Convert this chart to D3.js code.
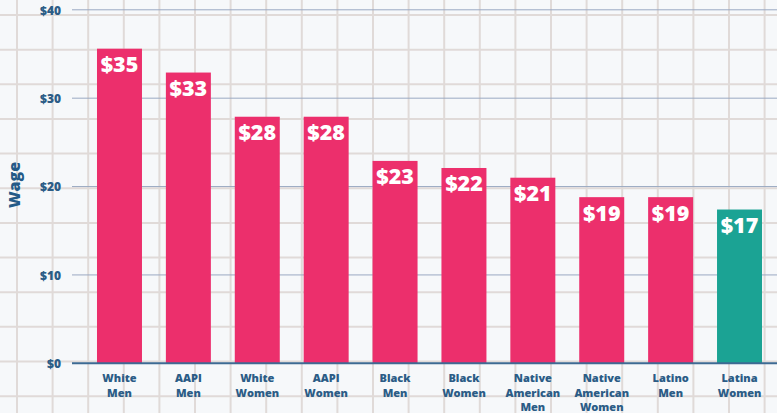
<!DOCTYPE html>
<html>
<head>
<meta charset="utf-8">
<script src="https://cdn.jsdelivr.net/npm/d3@7"></script>
<style>
  html, body { margin: 0; padding: 0; background: #f6f8fa; }
  svg { display: block; }
</style>
</head>
<body>
<svg id="chart" width="777" height="413"></svg>
<script>
const categories = [
  ["White", "Men"], ["AAPI", "Men"], ["White", "Women"], ["AAPI", "Women"],
  ["Black", "Men"], ["Black", "Women"], ["Native", "American", "Men"],
  ["Native", "American", "Women"], ["Latino", "Men"], ["Latina", "Women"]
];
const wages = [35.6, 32.9, 27.9, 27.9, 22.9, 22.1, 21.0, 18.8, 18.8, 17.4];
const wageLabels = ["$35", "$33", "$28", "$28", "$23", "$22", "$21", "$19", "$19", "$17"];
const highlight = [false, false, false, false, false, false, false, false, false, true];
const yTicks = [0, 10, 20, 30, 40];

const W = 777, H = 413;
const FONT = "'Open Sans', 'DejaVu Sans', sans-serif";
const svg = d3.select("#chart");

// graph-paper background
const bg = svg.append("g");
bg.append("rect").attr("width", W).attr("height", H).attr("fill", "#f6f8fa");
bg.selectAll("line.v").data(d3.range(0, 22)).join("line")
  .attr("x1", i => 17 + i * 35.6).attr("x2", i => 17 + i * 35.6)
  .attr("y1", 0).attr("y2", H)
  .attr("stroke", "#e0dad8").attr("stroke-width", 2);
bg.selectAll("line.h").data(d3.range(0, 12)).join("line")
  .attr("y1", i => 15 + i * 34.65).attr("y2", i => 15 + i * 34.65)
  .attr("x1", 0).attr("x2", W)
  .attr("stroke", "#e0dad8").attr("stroke-width", 2);

const x = d3.scaleBand()
  .domain(d3.range(categories.length))
  .range([85, 774])
  .paddingInner(0.347)
  .paddingOuter(0.174);
const y = d3.scaleLinear().domain([0, 40]).range([363.3, 9.8]);

// y axis
const yAxis = d3.axisLeft(y).tickValues(yTicks).tickSize(0).tickPadding(0)
  .tickFormat(d => "$" + d);
const ya = svg.append("g").attr("transform", "translate(61,0)").call(yAxis);
ya.select(".domain").remove();
ya.selectAll("text")
  .attr("fill", "#2b5c86")
  .attr("font-family", FONT)
  .attr("font-weight", 800)
  .attr("font-size", 12)
  .attr("dy", "0.35em");

// gridlines
svg.append("g").selectAll("line").data(yTicks.filter(d => d > 0)).join("line")
  .attr("x1", 72).attr("x2", W)
  .attr("y1", d => y(d)).attr("y2", d => y(d))
  .attr("stroke", "#9aa9c2").attr("stroke-width", 1);

// bars
svg.append("g").selectAll("rect").data(wages).join("rect")
  .attr("x", (d, i) => x(i))
  .attr("width", x.bandwidth())
  .attr("y", d => y(d))
  .attr("height", d => y(0) - y(d))
  .attr("fill", (d, i) => highlight[i] ? "#1ba394" : "#ec2f6c");

// value labels
svg.append("g").selectAll("text").data(wages).join("text")
  .attr("x", (d, i) => x(i) + x.bandwidth() / 2)
  .attr("y", d => y(d) + 23.5)
  .attr("text-anchor", "middle")
  .attr("fill", "#ffffff")
  .attr("font-family", FONT)
  .attr("font-weight", 800)
  .attr("font-size", 21.5)
  .text((d, i) => wageLabels[i]);

// baseline
svg.append("line")
  .attr("x1", 72).attr("x2", W)
  .attr("y1", y(0)).attr("y2", y(0))
  .attr("stroke", "#3d6a93").attr("stroke-width", 2);

// category labels
const cat = svg.append("g").selectAll("text").data(categories).join("text")
  .attr("x", (d, i) => x(i) + x.bandwidth() / 2)
  .attr("y", 382)
  .attr("text-anchor", "middle")
  .attr("fill", "#2b5c86")
  .attr("font-family", FONT)
  .attr("font-weight", 800)
  .attr("font-size", 11);
cat.selectAll("tspan").data(d => d).join("tspan")
  .attr("x", function() { return this.parentNode.getAttribute("x"); })
  .attr("dy", (d, i) => i === 0 ? 0 : 14.5)
  .text(d => d);

// y axis title
svg.append("text")
  .attr("transform", "translate(20,185) rotate(-90)")
  .attr("text-anchor", "middle")
  .attr("fill", "#245a87")
  .attr("font-family", FONT)
  .attr("font-weight", 800)
  .attr("font-size", 16)
  .text("Wage");
</script>
</body>
</html>
